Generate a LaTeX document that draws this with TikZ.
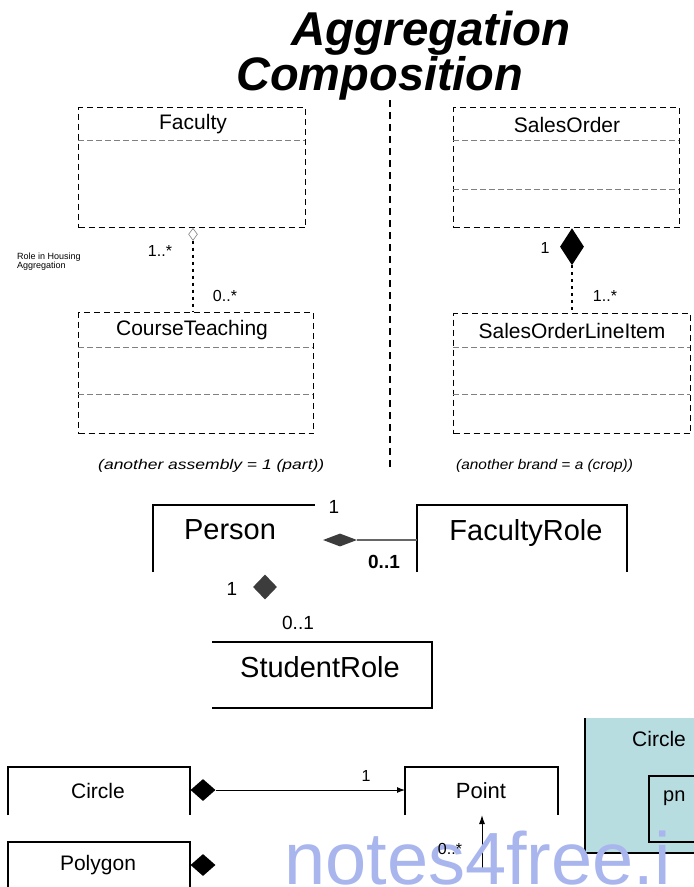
\documentclass[tikz,border=0pt]{standalone}
\usepackage{fontspec}
\setmainfont{Liberation Sans}
\usetikzlibrary{shapes.geometric,arrows.meta}
\definecolor{boxblue}{HTML}{B8DDE0}
\definecolor{wmark}{HTML}{A9B6EE}
\definecolor{pgray}{HTML}{3C3C3C}
\tikzset{
  fs/.style={font=\fontsize{#1}{#1}\selectfont},
  dbox/.style={draw, dash pattern=on 6pt off 4pt, line width=1.2pt},
  ddiv/.style={draw=gray, dash pattern=on 6pt off 3pt, line width=0.8pt},
  lbl/.style={inner sep=0pt},
  solidline/.style={draw, line width=1.4pt},
  fdia/.style={diamond, fill=black, inner sep=0pt},
  gdia/.style={diamond, fill=pgray, inner sep=0pt},
}
\begin{document}
\begin{tikzpicture}[x=1pt,y=-1pt]
\useasboundingbox (0,0) rectangle (694,887);
\clip (0,0) rectangle (694,887);
% title
\node[lbl, anchor=base west, font=\fontsize{47.5}{47.5}\selectfont\bfseries\itshape] (t1) at (291,45) {Aggregation};
\node[lbl, anchor=base west, font=\fontsize{47}{47}\selectfont\bfseries\itshape] (t2) at (236,90) {Composition};
% vertical separator
\draw[line width=1.6pt, dash pattern=on 7pt off 5pt] (390,100) coordinate (sepA) -- (390,470) coordinate (sepB);
% Faculty
\node[dbox, minimum width=227pt, minimum height=120pt, anchor=north west, inner sep=0] (fac) at (78,107) {};
\draw[ddiv] (78,140) -- (305,140);
\node[lbl, fs=21] (facn) at (193,124) {Faculty};
% CourseTeaching
\node[dbox, minimum width=235pt, minimum height=121pt, anchor=north west, inner sep=0] (ct) at (78,312) {};
\draw[ddiv] (78,347) -- (313,347);
\draw[ddiv] (78,394) -- (313,394);
\node[lbl, fs=21] (ctn) at (192,330) {CourseTeaching};
% aggregation connector
\node[diamond, draw=gray, line width=0.6pt, inner sep=0, minimum width=9pt, minimum height=12pt, anchor=north] (hd) at (193,228) {};
\draw[line width=1.2pt, dash pattern=on 3pt off 4pt] (hd.south) -- (ct.north -| hd.south);
\node[lbl, fs=16] (m1) at (160,251) {1..*};
\node[lbl, fs=16] (m2) at (225,296) {0..*};
\node[lbl, fs=9, align=left, anchor=west] (note) at (17,262) {Role in Housing\\Aggregation};
\node[lbl, fs=14, anchor=west] (capL) at (98,466) {\itshape\scalebox{1.25}[1]{(another assembly = 1 (part))}};
% SalesOrder
\node[dbox, minimum width=226pt, minimum height=120pt, anchor=north west, inner sep=0] (so) at (453,107) {};
\draw[ddiv] (453,140) -- (679,140);
\draw[ddiv] (453,189) -- (679,189);
\node[lbl, fs=21] (son) at (567,125) {SalesOrder};
\node[dbox, minimum width=237pt, minimum height=120pt, anchor=north west, inner sep=0] (sol) at (453,313) {};
\draw[ddiv] (453,347) -- (690,347);
\draw[ddiv] (453,394) -- (690,394);
\node[lbl, fs=21] (soln) at (572,331) {SalesOrderLineItem};
\node[fdia, minimum width=24pt, minimum height=37pt, anchor=north] (sd) at (572,228) {};
\draw[line width=1.2pt, dash pattern=on 3pt off 4pt] (sd.south) -- (sol.north -| sd.south);
\node[lbl, fs=16] (m3) at (545,248) {1};
\node[lbl, fs=16] (m4) at (605,296) {1..*};
\node[lbl, fs=14, anchor=west] (capR) at (456,466) {\itshape\scalebox{1.1}[1]{(another brand = a (crop))}};
% Person / FacultyRole / StudentRole
\draw[solidline] (153,572) -- (153,505) -- (315,505);
\node[lbl, fs=29] (pers) at (230,530) {Person};
\draw[solidline] (417,572) -- (417,505) -- (627,505) -- (627,572);
\node[lbl, fs=29] (frole) at (526,533) {FacultyRole};
\coordinate (frw) at (417,540);
\node[gdia, minimum width=34pt, minimum height=13pt] (pd1) at (340,540) {};
\draw[line width=2.2pt, color=gray!80!black] (pd1.east) -- (frw);
\node[lbl, fs=19] (m5) at (334,507) {1};
\node[lbl, fs=19, font=\fontsize{19}{19}\selectfont\bfseries] (m6) at (384,562) {0..1};
\node[gdia, minimum width=24pt, minimum height=25pt] (pd2) at (265,587) {};
\node[lbl, fs=19] (m7) at (232,589) {1};
\node[lbl, fs=19] (m8) at (298,623) {0..1};
\draw[solidline] (212,642) -- (432,642) -- (432,708) -- (212,708);
\node[lbl, fs=29] (srole) at (320,667) {StudentRole};
% bottom section
\draw[line width=1.2pt] (8,815) -- (8,767) -- (190,767) -- (190,815);
\node[lbl, fs=21] (circ) at (98,791) {Circle};
\draw[line width=1.2pt] (405,815) -- (405,767) -- (558,767) -- (558,815);
\node[lbl, fs=22] (pt) at (481,791) {Point};
\coordinate (ptw) at (405,790);
\coordinate (pts) at (482,815);
\node[fdia, minimum width=25pt, minimum height=22pt] (cd) at (203,790) {};
\draw[line width=1pt, -{Latex[length=8pt,width=6pt]}] (cd.east) -- (ptw);
\node[lbl, fs=16] (m9) at (366,776) {1};
\draw[line width=1.2pt] (8,887) -- (8,842) -- (190,842) -- (190,887);
\node[lbl, fs=21] (poly) at (98,865) {Polygon};
\node[fdia, minimum width=25pt, minimum height=22pt] (pgd) at (203,865) {};
\coordinate (pbot) at (482,868);
\draw[line width=1pt, -{Latex[length=9pt,width=6pt]}] (pbot) -- (pts);
% blue box
\fill[boxblue] (585,718) rectangle (700,853);
\draw[line width=1.2pt] (585,718) -- (585,853) -- (700,853);
\node[lbl, fs=21, anchor=west] (bc) at (632,739) {Circle};
\draw[line width=1.2pt, fill=boxblue] (700,776) -- (649,776) -- (649,842) -- (700,842);
\node[lbl, fs=20, anchor=west] (bp) at (663,798) {pn};
% watermark
\node[lbl, anchor=base west, text=wmark, font=\fontsize{74}{74}\selectfont] (wm) at (284,884) {notes4free.i};
\node[lbl, fs=16] (m10) at (450,849) {0..*};
\end{tikzpicture}
\end{document}
